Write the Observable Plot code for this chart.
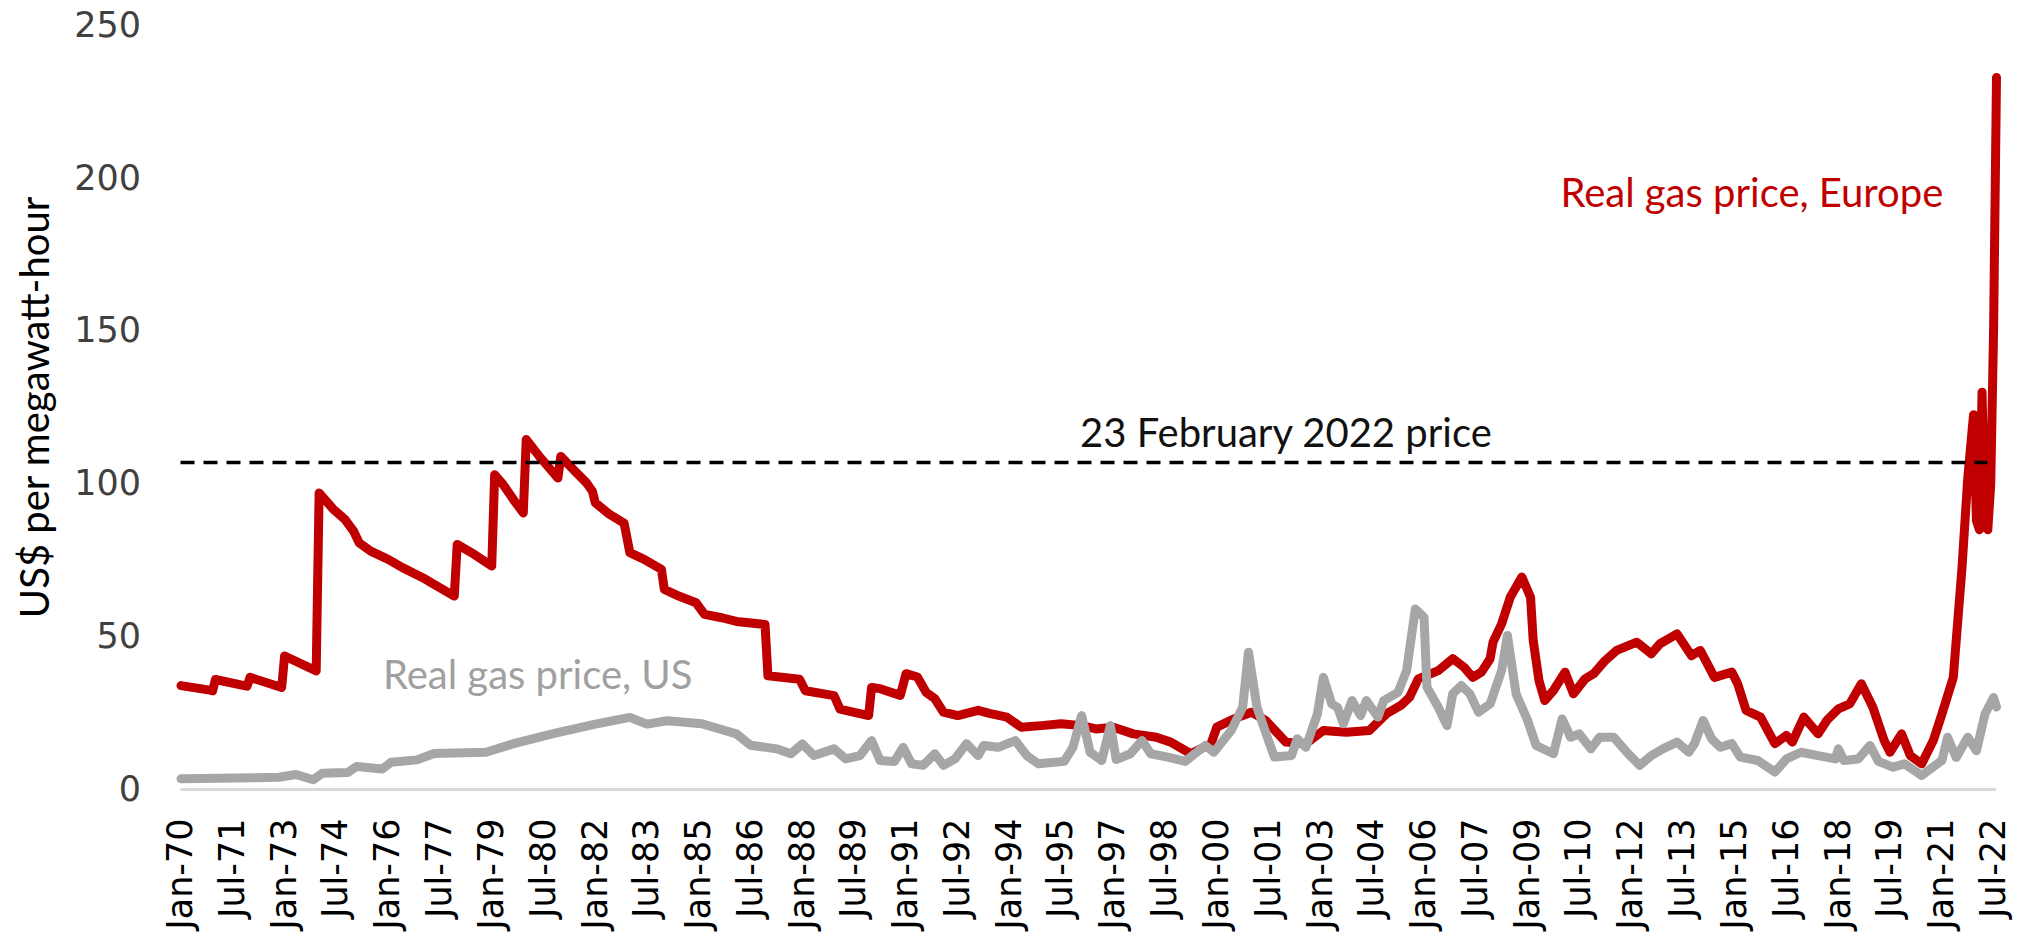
<!DOCTYPE html>
<html>
<head>
<meta charset="utf-8">
<script src="https://cdn.jsdelivr.net/npm/d3@7"></script>
<script src="https://cdn.jsdelivr.net/npm/@observablehq/plot@0.6"></script>
<style>
  html, body { margin: 0; padding: 0; background: #ffffff; }
  svg { display: block; }
</style>
</head>
<body>
<div id="chart"></div>
<script>
// ---- Data: [month, US$ per MWh] ----
const europePrices = [
["1970-01",34],["1970-11",32.5],["1970-12",32.3],["1971-01",36],["1971-11",34],["1971-12",33.8],["1972-01",36.7],["1972-12",33.4],
["1973-01",43.7],["1973-12",38.8],["1974-01",97],["1974-06",91.7],["1974-10",88.4],["1975-01",84.5],["1975-03",80.7],["1975-07",78],
["1976-01",75.3],["1976-06",72.6],["1977-01",69.3],["1977-05",67.1],["1977-12",63.3],["1978-01",80.2],["1978-07",76.9],["1979-01",73.1],
["1979-02",103],["1979-05",99.8],["1979-09",94.3],["1979-12",90.5],["1980-01",114.5],["1980-06",108.5],["1980-12",101.9],["1981-01",109],
["1981-06",104.1],["1981-10",100.3],["1981-12",97.6],["1982-01",93.8],["1982-06",90],["1982-11",87.2],["1983-01",77.5],["1983-06",75.3],
["1983-12",72],["1984-01",65.5],["1984-06",63.3],["1984-12",61.1],["1985-03",57.3],["1985-09",56.2],["1986-02",55],["1986-12",54],
["1987-01",37.2],["1987-12",36.1],["1988-02",32.3],["1988-12",30.7],["1989-02",26.3],["1989-12",24.2],["1990-01",33.4],["1990-04",33.0],
["1990-11",30.8],["1991-01",37.9],["1991-05",36.8],["1991-08",31.8],["1991-11",29.7],["1992-02",25.3],["1992-07",24.2],["1993-02",25.9],
["1993-06",24.9],["1993-12",23.7],["1994-05",20.4],["1994-12",20.9],["1995-07",21.5],["1996-02",20.9],["1996-07",19.8],["1997-01",20.4],
["1997-08",18.2],["1998-04",17.1],["1998-09",15.5],["1999-04",11.7],["1999-11",15.0],["2000-01",20.4],["2000-07",23.1],["2001-01",25.3],
["2001-06",22.6],["2002-01",15.5],["2002-08",15.0],["2003-02",19.3],["2003-10",18.7],["2004-06",19.3],["2004-12",24.8],["2005-05",27.5],
["2005-08",30.2],["2005-11",36.2],["2006-06",38.9],["2006-11",42.8],["2007-03",40.0],["2007-06",36.7],["2007-09",38.4],["2007-12",42.8],
["2008-01",48.2],["2008-04",54.2],["2008-07",62.9],["2008-11",69.5],["2009-02",62.9],["2009-03",48.8],["2009-05",35.7],["2009-07",29.1],
["2009-10",32.4],["2010-02",38.4],["2010-05",31.3],["2010-09",36.2],["2010-12",37.9],["2011-04",42.2],["2011-08",45.5],["2012-03",48.2],
["2012-08",44.4],["2012-11",47.7],["2013-05",50.9],["2013-10",43.8],["2014-01",45.5],["2014-06",36.7],["2014-12",38.4],["2015-02",34.6],
["2015-05",25.9],["2015-10",23.7],["2016-03",15.0],["2016-07",17.7],["2016-09",15.5],["2017-01",23.7],["2017-06",18.2],["2017-09",22.6],
["2018-01",26.4],["2018-05",28.0],["2018-09",34.6],["2019-01",26.9],["2019-05",16.0],["2019-07",12.2],["2019-11",18.2],["2020-02",11.1],
["2020-06",8.4],["2020-10",16],["2021-01",24.7],["2021-05",36.7],["2021-08",72.6],["2021-10",101.9],["2021-12",122.6],["2022-01",88],
["2022-02",85],["2022-03",130],["2022-04",88],["2022-05",85],["2022-06",100],["2022-07",150],["2022-08",233]
];
const usPrices = [
["1970-01",3.5],["1972-11",4.0],["1973-05",4.9],["1973-11",3.2],["1974-02",5.3],["1974-11",5.6],["1975-02",7.5],["1975-11",6.7],
["1976-02",8.9],["1976-11",9.7],["1977-05",11.8],["1978-11",12.2],["1979-09",15.1],["1980-10",18.2],["1982-01",21.4],["1983-01",23.6],
["1983-07",21.4],["1984-02",22.5],["1985-02",21.5],["1986-02",18.2],["1986-07",14.5],["1987-04",13.3],["1987-09",11.7],["1988-01",14.9],
["1988-05",11.1],["1988-12",13.3],["1989-04",10],["1989-09",11.1],["1990-01",16],["1990-04",9.5],["1990-09",9.2],["1990-12",13.8],
["1991-03",8.4],["1991-07",7.9],["1991-11",11.7],["1992-02",7.9],["1992-06",10.0],["1992-10",15.0],["1993-02",11.1],["1993-04",14.4],
["1993-09",13.8],["1994-03",16.0],["1994-07",11.1],["1994-11",8.4],["1995-08",9.2],["1995-11",13.8],["1996-02",24.2],["1996-05",12.2],
["1996-09",9.5],["1996-12",20.9],["1997-02",9.8],["1997-07",11.7],["1997-11",16.0],["1998-02",11.7],["1998-08",10.6],["1999-02",9.2],
["1999-09",14.4],["1999-12",12.2],["2000-06",19.3],["2000-10",26.9],["2000-12",44.9],["2001-03",26.9],["2001-07",16.0],["2001-09",10.6],
["2002-03",11.1],["2002-05",16.6],["2002-08",13.8],["2002-12",24.8],["2003-02",36.7],["2003-05",28.0],["2003-07",26.9],["2003-09",21.5],
["2003-12",29.1],["2004-03",24.2],["2004-05",29.1],["2004-09",23.7],["2004-11",29.1],["2005-04",31.8],["2005-07",38.9],["2005-10",59.1],
["2006-01",56.4],["2006-02",33.5],["2006-06",26.9],["2006-09",20.9],["2006-11",31.3],["2007-02",34.0],["2007-05",31.3],["2007-08",25.3],
["2007-12",28.0],["2008-04",38.9],["2008-06",50.4],["2008-09",31.3],["2009-01",22.6],["2009-04",14.4],["2009-10",11.7],["2010-01",23.1],
["2010-04",17.1],["2010-07",18.2],["2010-11",13.3],["2011-02",17.1],["2011-07",17.1],["2011-12",11.7],["2012-04",7.9],["2012-08",11.1],
["2012-12",13.3],["2013-05",15.5],["2013-09",12.2],["2013-11",15.0],["2014-02",22.6],["2014-05",16.6],["2014-08",13.8],["2014-12",15.0],
["2015-03",10.6],["2015-09",9.5],["2016-03",5.7],["2016-07",10.0],["2016-12",12.2],["2017-06",11.1],["2017-12",10.0],["2018-01",13.3],
["2018-03",9.5],["2018-08",10.0],["2018-12",14.4],["2019-03",9.2],["2019-08",7.3],["2019-12",8.4],["2020-06",4.6],["2021-01",9.5],
["2021-03",17.1],["2021-06",10.5],["2021-10",17.1],["2022-01",12.7],["2022-04",24.7],["2022-07",30.1],["2022-08",27]
];

const refPrice = 107;                       // 23 February 2022 price
const refStart = "1970-01", refEnd = "2022-05";
const xTickLabels = ["Jan-70","Jul-71","Jan-73","Jul-74","Jan-76","Jul-77","Jan-79","Jul-80","Jan-82","Jul-83","Jan-85","Jul-86","Jan-88","Jul-89","Jan-91","Jul-92","Jan-94","Jul-95","Jan-97","Jul-98","Jan-00","Jul-01","Jan-03","Jul-04","Jan-06","Jul-07","Jan-09","Jul-10","Jan-12","Jul-13","Jan-15","Jul-16","Jan-18","Jul-19","Jan-21","Jul-22"];
const yTicks = [0, 50, 100, 150, 200, 250];
const yLabel = "US$ per megawatt-hour";
const annLabels = ["Real gas price, Europe", "Real gas price, US", "23 February 2022 price"];
const annDates  = ["2015-07", "1980-05", "2002-01"];
const annValues = [190.5, 33, 112];
const annColors = ["#C00000", "#A0A0A0", "#111111"];

// ---- Build tables ----
const parseMonth = d3.utcParse("%Y-%m");
const eu = europePrices.map(([d, v]) => ({date: parseMonth(d), value: v}));
const us = usPrices.map(([d, v]) => ({date: parseMonth(d), value: v}));
const xTicks = xTickLabels.map(d3.utcParse("%b-%y"));
const ann = annLabels.map((t, i) => ({label: t, date: parseMonth(annDates[i]), value: annValues[i], color: annColors[i]}));

const chart = Plot.plot({
  width: 2021,
  height: 936,
  marginLeft: 180.5,
  marginRight: 25,
  marginTop: 25,
  marginBottom: 147,
  style: {fontFamily: "DejaVu Sans", fontSize: "35px", background: "#ffffff", overflow: "visible"},
  x: {type: "utc", domain: [parseMonth("1970-01"), parseMonth("2022-08")]},
  y: {domain: [0, 250]},
  marks: [
    Plot.ruleY([0], {stroke: "#D9D9D9", strokeWidth: 3}),
    Plot.line(eu, {x: "date", y: "value", stroke: "#C00000", strokeWidth: 9, strokeLinejoin: "round", strokeLinecap: "round"}),
    Plot.line(us, {x: "date", y: "value", stroke: "#A6A6A6", strokeWidth: 9, strokeLinejoin: "round", strokeLinecap: "round"}),
    Plot.ruleY([refPrice], {x1: parseMonth(refStart), x2: parseMonth(refEnd), stroke: "#000000", strokeWidth: 3.5, strokeDasharray: "14,9"}),
    Plot.axisX({ticks: xTicks, tickFormat: d3.utcFormat("%b-%y"), tickRotate: -90, tickSize: 0, tickPadding: 29, fontSize: 35, label: null, color: "#000000"}),
    Plot.axisY({ticks: yTicks, tickSize: 0, tickPadding: 40, fontSize: 35, label: null, color: "#404040"}),
    Plot.text([yLabel], {frameAnchor: "left", textAnchor: "middle", rotate: -90, dx: -144.5, fontFamily: "Lato", fontSize: 40, fill: "#000000"}),
    Plot.text(ann, {x: "date", y: "value", text: "label", fill: "color", lineAnchor: "bottom", textAnchor: "middle", fontFamily: "Lato", fontSize: 40})
  ]
});
document.getElementById("chart").appendChild(chart);
</script>
</body>
</html>
